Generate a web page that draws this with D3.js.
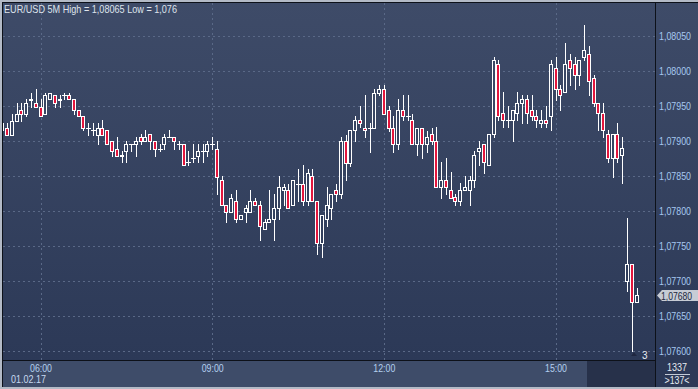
<!DOCTYPE html>
<html>
<head>
<meta charset="utf-8">
<script src="https://cdn.jsdelivr.net/npm/d3@7"></script>
<style>
body { margin: 0; background: #b3bac6; }
svg { display: block; }
text { font-family: "Liberation Sans", Arial, sans-serif; font-size: 11px; }
</style>
</head>
<body>
<script>
var w = 698, h = 389;
var plotL = 3, plotR = 655, plotT = 3, plotB = 360;

// chart data
var title = 'EUR/USD 5M High = 1,08065 Low = 1,076';
var startTime = '2017-02-01T05:20';
var dateLabel = '01.02.17';
var xTicks = ['2017-02-01T06:00', '2017-02-01T09:00', '2017-02-01T12:00', '2017-02-01T15:00'];
var yTicks = [1.0760, 1.0765, 1.0770, 1.0775, 1.0780, 1.0785, 1.0790, 1.0795, 1.0800, 1.0805];
var lastPrice = 1.07680;
var barsCount = '1337', barsShown = '>137<', markerLabel = '3';

var open = [1.07925,1.07919,1.07909,1.07929,1.07945,1.07939,1.07958,1.07955,1.07949,1.07939,
	1.07960,1.07966,1.07958,1.07966,1.07966,1.07960,1.07945,1.07936,1.07919,1.07916,
	1.07909,1.07919,1.07916,1.07900,1.07889,1.07880,1.07886,1.07895,1.07895,1.07905,
	1.07900,1.07910,1.07900,1.07889,1.07895,1.07905,1.07905,1.07895,1.07895,1.07870,
	1.07875,1.07879,1.07886,1.07886,1.07895,1.07889,1.07845,1.07809,1.07799,1.07814,
	1.07789,1.07799,1.07799,1.07814,1.07809,1.07775,1.07784,1.07789,1.07804,1.07830,
	1.07830,1.07809,1.07839,1.07839,1.07814,1.07850,1.07814,1.07754,1.07789,1.07804,
	1.07830,1.07825,1.07900,1.07869,1.07915,1.07930,1.07919,1.07919,1.07919,1.07969,
	1.07975,1.07945,1.07919,1.07895,1.07945,1.07935,1.07930,1.07895,1.07919,1.07895,
	1.07910,1.07900,1.07835,1.07845,1.07830,1.07820,1.07815,1.07830,1.07830,1.07845,
	1.07885,1.07895,1.07865,1.07910,1.08010,1.07940,1.07930,1.07930,1.07940,1.07955,
	1.07960,1.07945,1.07936,1.07925,1.07930,1.07935,1.08005,1.07975,1.07970,1.08016,
	1.08010,1.07995,1.08020,1.08025,1.07990,1.07955,1.07940,1.07910,1.07875,1.07910,
	1.07880,1.07700,1.07725,1.07670];

var high = [1.07927,1.07925,1.07939,1.07955,1.07955,1.07960,1.07969,1.07975,1.07960,1.07969,
	1.07969,1.07966,1.07966,1.07969,1.07969,1.07960,1.07945,1.07936,1.07925,1.07925,
	1.07925,1.07930,1.07916,1.07900,1.07905,1.07886,1.07900,1.07895,1.07905,1.07910,
	1.07916,1.07910,1.07900,1.07895,1.07910,1.07916,1.07905,1.07900,1.07895,1.07886,
	1.07895,1.07895,1.07895,1.07900,1.07905,1.07900,1.07850,1.07809,1.07825,1.07830,
	1.07795,1.07809,1.07830,1.07819,1.07814,1.07789,1.07830,1.07825,1.07850,1.07839,
	1.07839,1.07845,1.07860,1.07865,1.07860,1.07860,1.07814,1.07795,1.07834,1.07825,
	1.07839,1.07905,1.07908,1.07915,1.07935,1.07950,1.07966,1.07925,1.07975,1.07980,
	1.07980,1.07950,1.07935,1.07960,1.07966,1.07966,1.07939,1.07919,1.07919,1.07914,
	1.07919,1.07920,1.07870,1.07875,1.07856,1.07825,1.07840,1.07850,1.07850,1.07886,
	1.07900,1.07895,1.07910,1.08020,1.08016,1.07970,1.07950,1.07945,1.07970,1.07966,
	1.07966,1.07966,1.07945,1.07945,1.07950,1.08016,1.08020,1.07980,1.08040,1.08025,
	1.08020,1.08016,1.08065,1.08036,1.07995,1.07955,1.07955,1.07915,1.07910,1.07925,
	1.07905,1.07790,1.07725,1.07690];

var low = [1.07915,1.07909,1.07909,1.07929,1.07929,1.07936,1.07949,1.07949,1.07936,1.07939,
	1.07960,1.07949,1.07949,1.07960,1.07960,1.07939,1.07936,1.07915,1.07909,1.07909,
	1.07895,1.07909,1.07895,1.07878,1.07879,1.07870,1.07870,1.07886,1.07879,1.07895,
	1.07900,1.07889,1.07879,1.07886,1.07889,1.07905,1.07889,1.07889,1.07865,1.07865,
	1.07870,1.07870,1.07870,1.07879,1.07889,1.07825,1.07809,1.07784,1.07799,1.07784,
	1.07789,1.07784,1.07799,1.07809,1.07759,1.07775,1.07784,1.07759,1.07789,1.07809,
	1.07804,1.07809,1.07814,1.07809,1.07809,1.07814,1.07739,1.07734,1.07779,1.07789,
	1.07814,1.07819,1.07845,1.07864,1.07900,1.07920,1.07905,1.07884,1.07919,1.07966,
	1.07939,1.07914,1.07884,1.07889,1.07930,1.07930,1.07895,1.07880,1.07875,1.07884,
	1.07895,1.07835,1.07819,1.07825,1.07819,1.07809,1.07809,1.07830,1.07809,1.07835,
	1.07866,1.07855,1.07865,1.07905,1.07930,1.07920,1.07920,1.07900,1.07930,1.07925,
	1.07925,1.07930,1.07920,1.07920,1.07920,1.07915,1.07959,1.07945,1.07970,1.07980,
	1.07975,1.07980,1.08016,1.07966,1.07950,1.07915,1.07905,1.07870,1.07849,1.07870,
	1.07840,1.07685,1.07600,1.07670];

var close = [1.07916,1.07909,1.07929,1.07939,1.07939,1.07955,1.07960,1.07949,1.07936,1.07966,
	1.07969,1.07955,1.07960,1.07966,1.07960,1.07945,1.07936,1.07919,1.07918,1.07916,
	1.07919,1.07909,1.07895,1.07886,1.07879,1.07879,1.07895,1.07895,1.07900,1.07900,
	1.07905,1.07900,1.07889,1.07889,1.07905,1.07905,1.07900,1.07895,1.07865,1.07870,
	1.07875,1.07886,1.07886,1.07895,1.07895,1.07849,1.07809,1.07799,1.07819,1.07789,
	1.07795,1.07804,1.07814,1.07809,1.07779,1.07784,1.07789,1.07804,1.07834,1.07834,
	1.07804,1.07845,1.07839,1.07814,1.07855,1.07814,1.07754,1.07795,1.07809,1.07825,
	1.07825,1.07900,1.07869,1.07915,1.07930,1.07925,1.07915,1.07919,1.07969,1.07975,
	1.07939,1.07919,1.07895,1.07945,1.07935,1.07935,1.07895,1.07919,1.07895,1.07905,
	1.07900,1.07835,1.07845,1.07835,1.07819,1.07815,1.07830,1.07835,1.07845,1.07880,
	1.07890,1.07870,1.07910,1.08016,1.07936,1.07930,1.07930,1.07945,1.07955,1.07960,
	1.07940,1.07936,1.07930,1.07930,1.07925,1.08010,1.07975,1.07966,1.08010,1.08005,
	1.07995,1.08016,1.08030,1.07986,1.07955,1.07940,1.07915,1.07875,1.07910,1.07875,
	1.07890,1.07725,1.07670,1.07680];

var parseTime = d3.timeParse('%Y-%m-%dT%H:%M');
var t0 = parseTime(startTime);

var data = open.map(function(o, i) {
	return { t: d3.timeMinute.offset(t0, 5 * i), o: o, h: high[i], l: low[i], c: close[i] };
});

var x = d3.scaleTime()
	.domain([parseTime(xTicks[0]), parseTime(xTicks[3])])
	.range([40.5, 555.5]);

var y = d3.scaleLinear()
	.domain([1.0760, 1.0805])
	.range([351, 36]);

var locale = d3.formatLocale({ decimal: ',', thousands: '.', grouping: [3], currency: ['', ''] });
var fmt = locale.format('.5f');

// squeeze text to the narrow face of the original
function narrow(sel, len) {
	sel.attr('textLength', len).attr('lengthAdjust', 'spacingAndGlyphs');
}

var svg = d3.select('body').append('svg')
	.attr('width', w)
	.attr('height', h);

var defs = svg.append('defs');
var grad = defs.append('linearGradient')
	.attr('id', 'bg')
	.attr('gradientUnits', 'userSpaceOnUse')
	.attr('x1', 0).attr('y1', plotT)
	.attr('x2', 0).attr('y2', plotB);
grad.append('stop').attr('offset', 0).attr('stop-color', '#3e4b68');
grad.append('stop').attr('offset', 1).attr('stop-color', '#2c3957');

defs.append('clipPath').attr('id', 'clip')
	.append('rect')
	.attr('x', plotL).attr('y', plotT)
	.attr('width', plotR - plotL).attr('height', plotB - plotT);

// frame and panels
svg.append('rect').attr('width', w).attr('height', h).attr('fill', '#b3bac6');
svg.append('rect').attr('x', 2).attr('y', 2).attr('width', w - 2).attr('height', 385).attr('fill', '#0d1119');
svg.append('rect').attr('x', plotL).attr('y', plotT).attr('width', plotR - plotL).attr('height', plotB - plotT).attr('fill', 'url(#bg)');
svg.append('rect').attr('x', plotR + 1).attr('y', plotT).attr('width', w - plotR - 1).attr('height', 384).attr('fill', 'url(#bg)');
svg.append('rect').attr('x', plotL).attr('y', plotB + 1).attr('width', plotR - plotL).attr('height', 26).attr('fill', '#3e4c69');
svg.append('rect').attr('x', 587).attr('y', plotB + 1).attr('width', plotR - 587).attr('height', 26).attr('fill', '#27314a');

// grid
var grid = svg.append('g')
	.attr('stroke', '#5a6987')
	.attr('stroke-width', 1)
	.attr('stroke-dasharray', '2,3');

grid.selectAll('.hg')
	.data(yTicks)
	.enter()
	.append('line')
	.attr('x1', plotL).attr('x2', plotR)
	.attr('y1', function(d) { return Math.round(y(d)) + 0.5; })
	.attr('y2', function(d) { return Math.round(y(d)) + 0.5; });

grid.selectAll('.vg')
	.data(xTicks)
	.enter()
	.append('line')
	.attr('y1', plotT).attr('y2', plotB)
	.attr('x1', function(d) { return Math.round(x(parseTime(d))) + 0.5; })
	.attr('x2', function(d) { return Math.round(x(parseTime(d))) + 0.5; });

// candles
var candles = svg.append('g')
	.attr('clip-path', 'url(#clip)')
	.selectAll('g')
	.data(data)
	.enter()
	.append('g');

function cx(d) { return Math.round(x(d.t)); }

candles.append('line')
	.attr('x1', function(d) { return cx(d) + 0.5; })
	.attr('x2', function(d) { return cx(d) + 0.5; })
	.attr('y1', function(d) { return Math.round(y(d.h)); })
	.attr('y2', function(d) { return Math.round(y(d.l)) + 1; })
	.attr('stroke', '#ffffff')
	.attr('stroke-width', 1);

candles.each(function(d) {
	var g = d3.select(this);
	var top = Math.round(y(Math.max(d.o, d.c))),
		bot = Math.round(y(Math.min(d.o, d.c)));
	if (bot - top < 1) {
		g.append('line')
			.attr('x1', cx(d) - 2).attr('x2', cx(d) + 3)
			.attr('y1', top + 0.5).attr('y2', top + 0.5)
			.attr('stroke', '#ffffff');
	} else {
		g.append('rect')
			.attr('x', cx(d) - 1.5)
			.attr('y', top + 0.5)
			.attr('width', 3)
			.attr('height', bot - top)
			.attr('fill', d.c < d.o ? '#e3163d' : 'url(#bg)')
			.attr('stroke', '#ffffff')
			.attr('stroke-width', 1);
	}
});

// axes
var yAxis = svg.append('g')
	.attr('transform', 'translate(' + plotR + ',0)')
	.call(d3.axisRight(y).tickValues(yTicks).tickSize(0).tickPadding(4).tickFormat(fmt));
yAxis.select('.domain').remove();
yAxis.selectAll('text').attr('fill', '#a6c8f0').style('font-size', '11px').call(narrow, 32);

var xAxis = svg.append('g')
	.attr('transform', 'translate(0,' + plotB + ')')
	.call(d3.axisBottom(x).tickValues(xTicks.map(parseTime)).tickSize(0).tickPadding(4).tickFormat(d3.timeFormat('%H:%M')));
xAxis.select('.domain').remove();
xAxis.selectAll('text').attr('fill', '#b4d0f0').style('font-size', '11px').call(narrow, 22);

svg.append('text')
	.attr('x', 11).attr('y', 383)
	.attr('fill', '#c8daf0')
	.text(dateLabel)
	.call(narrow, 35);

svg.append('text')
	.attr('x', 4).attr('y', 12.5)
	.attr('fill', '#dfe4ec')
	.text(title)
	.call(narrow, 173);

// last price tag
var ly = Math.round(y(lastPrice)) + 0.5;
svg.append('path')
	.attr('d', 'M657,' + ly + 'L662,' + (ly - 5.5) + 'L698,' + (ly - 5.5) + 'L698,' + (ly + 5.5) + 'L662,' + (ly + 5.5) + 'Z')
	.attr('fill', '#c7ccd5');
svg.append('text')
	.attr('x', 661).attr('y', ly + 4)
	.attr('fill', '#1c2840')
	.text(fmt(lastPrice))
	.call(narrow, 31);

// marker near last bar
svg.append('path')
	.attr('d', 'M631,356L634,352.5L637,356Z')
	.attr('fill', '#1f2740');
svg.append('text')
	.attr('x', 642).attr('y', 359)
	.attr('fill', '#e6ebf2')
	.style('font-size', '10px')
	.text(markerLabel);

// bar counter box
svg.append('text')
	.attr('x', 677).attr('y', 370.5)
	.attr('text-anchor', 'middle')
	.attr('fill', '#e6ebf2')
	.text(barsCount)
	.call(narrow, 20);
svg.append('line')
	.attr('x1', 665).attr('x2', 690)
	.attr('y1', 374.5).attr('y2', 374.5)
	.attr('stroke', '#c3cad6');
svg.append('text')
	.attr('x', 677).attr('y', 383.5)
	.attr('text-anchor', 'middle')
	.attr('fill', '#e6ebf2')
	.text(barsShown)
	.call(narrow, 25);
</script>
</body>
</html>
